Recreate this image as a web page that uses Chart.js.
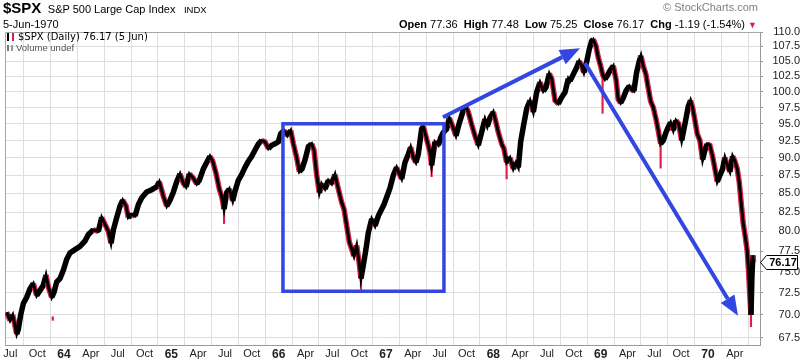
<!DOCTYPE html>
<html lang="en">
<head>
  <meta charset="UTF-8" />
  <title>$SPX Daily</title>
  <script src="https://cdn.jsdelivr.net/npm/chart.js"></script>
  <style>
    body { margin: 0; background: #fff; font-family: "Liberation Sans", Arial, sans-serif; }
    #wrap { position: relative; width: 800px; height: 362px; overflow: hidden; }
    #wrap canvas { position: absolute; left: 0; top: 0; }
    .t { position: absolute; white-space: nowrap; color: #000; }
    .ico { display: inline-block; width: 3px; height: 8px; border-left: 2px solid #000; border-right: 2px solid #d8204c; margin-right: 4px; vertical-align: -1px; }
    .vico { display: inline-block; width: 2px; height: 6px; border-left: 2px solid #777; border-right: 2px solid #999; margin-right: 3px; vertical-align: 0; }
  </style>
</head>
<body>
  <div id="wrap">
    <canvas id="spxChart" width="800" height="362"></canvas>

    <!-- header -->
    <div class="t" style="left:3px;top:-1px;line-height:18px;">
      <span style="font-size:15px;font-weight:bold;">$SPX</span>
      <span style="font-size:11px;margin-left:2px;">S&amp;P 500 Large Cap Index</span>
      <span style="font-size:9.5px;margin-left:4px;">INDX</span>
    </div>
    <div class="t" style="left:3px;top:17px;font-size:11px;line-height:14px;">5-Jun-1970</div>
    <div class="t" style="right:42px;top:1px;font-size:11px;color:#808080;">&copy; StockCharts.com</div>
    <div class="t" style="right:43px;top:17px;font-size:11px;line-height:14px;">
      <b>Open</b> 77.36 &nbsp;<b>High</b> 77.48 &nbsp;<b>Low</b> 75.25 &nbsp;<b>Close</b> 76.17 &nbsp;<b>Chg</b> -1.19 (-1.54%) <span style="color:#d8204c;font-size:9px;">&#9660;</span>
    </div>

    <!-- in-chart legend -->
    <div class="t" style="left:7px;top:31px;font-family:'DejaVu Sans',sans-serif;font-size:10px;line-height:12px;">
      <span class="ico"></span>$SPX (Daily) 76.17 (5 Jun)
    </div>
    <div class="t" style="left:7px;top:42px;font-size:9.5px;line-height:11px;color:#555;">
      <span class="vico"></span>Volume undef
    </div>
  </div>

  <script>
    // daily close, sampled off the chart (decimal year, index value)
    const closeYears = [
      1963.466, 1963.497, 1963.522, 1963.543, 1963.559, 1963.574, 1963.596, 1963.621, 1963.652, 1963.683,
      1963.714, 1963.745, 1963.776, 1963.807, 1963.832, 1963.854, 1963.885, 1963.907, 1963.932, 1963.963,
      1963.994, 1964.025, 1964.056, 1964.102, 1964.149, 1964.196, 1964.227, 1964.273, 1964.320, 1964.351,
      1964.382, 1964.413, 1964.438, 1964.460, 1964.491, 1964.522, 1964.547, 1964.578, 1964.599, 1964.631,
      1964.662, 1964.693, 1964.724, 1964.770, 1964.817, 1964.863, 1964.888, 1964.926, 1964.957, 1964.988,
      1965.019, 1965.050, 1965.081, 1965.112, 1965.137, 1965.168,
      1965.205, 1965.236, 1965.261, 1965.298, 1965.329, 1965.360, 1965.385, 1965.416, 1965.447, 1965.469,
      1965.491, 1965.516, 1965.540, 1965.572, 1965.593, 1965.624, 1965.655, 1965.686, 1965.718, 1965.749,
      1965.780, 1965.811, 1965.842, 1965.873, 1965.904, 1965.935, 1965.966, 1965.997, 1966.019, 1966.050,
      1966.081, 1966.112, 1966.137, 1966.168, 1966.193, 1966.218, 1966.246, 1966.277, 1966.308, 1966.329,
      1966.354, 1966.379, 1966.401, 1966.432, 1966.463, 1966.494, 1966.525, 1966.556, 1966.587, 1966.609,
      1966.634, 1966.659, 1966.680, 1966.702, 1966.727, 1966.749, 1966.767, 1966.789, 1966.814, 1966.835,
      1966.867, 1966.898, 1966.929, 1966.981,
      1967.037, 1967.068, 1967.099, 1967.124, 1967.146, 1967.177, 1967.208, 1967.230, 1967.255, 1967.279,
      1967.301, 1967.332, 1967.348, 1967.379, 1967.410, 1967.425, 1967.456, 1967.488, 1967.512, 1967.534,
      1967.565, 1967.590, 1967.621, 1967.652, 1967.683, 1967.721, 1967.745, 1967.767, 1967.798, 1967.829,
      1967.860, 1967.891, 1967.922, 1967.944, 1967.969, 1968.000, 1968.022, 1968.047, 1968.078, 1968.099,
      1968.124, 1968.155, 1968.186, 1968.211, 1968.233, 1968.255, 1968.280, 1968.311, 1968.342, 1968.373,
      1968.404, 1968.435, 1968.466, 1968.491, 1968.522, 1968.544, 1968.575, 1968.606, 1968.637, 1968.668,
      1968.699, 1968.714, 1968.745, 1968.776, 1968.801, 1968.823, 1968.844, 1968.869, 1968.894, 1968.916,
      1968.931, 1968.956, 1968.978, 1969.000, 1969.018, 1969.040, 1969.062, 1969.087, 1969.118, 1969.143,
      1969.164, 1969.186, 1969.211, 1969.236, 1969.267, 1969.289, 1969.310, 1969.335, 1969.360, 1969.376,
      1969.397, 1969.422, 1969.444, 1969.466, 1969.491, 1969.515, 1969.537, 1969.559, 1969.584, 1969.609,
      1969.630, 1969.652, 1969.677, 1969.702, 1969.727, 1969.755, 1969.786, 1969.817, 1969.838, 1969.857,
      1969.879, 1969.900, 1969.925, 1969.950, 1969.972, 1969.994, 1970.018, 1970.043, 1970.065, 1970.087,
      1970.112, 1970.137, 1970.158, 1970.180, 1970.205, 1970.230, 1970.251, 1970.273, 1970.292, 1970.311,
      1970.329, 1970.348, 1970.366, 1970.379, 1970.391, 1970.401, 1970.410, 1970.419, 1970.425
    ];
    const closeValues = [
      70.3, 69.4, 70.0, 68.8, 67.9, 68.4, 70.0, 71.3, 72.0, 73.0,
      73.6, 72.2, 72.8, 73.4, 74.6, 73.2, 72.0, 72.6, 73.8, 74.2,
      75.2, 76.5, 77.3, 77.7, 78.1, 78.8, 79.6, 80.2, 80.0, 81.8,
      80.9, 80.0, 78.5, 80.2, 81.8, 83.3, 84.1, 83.3, 81.8, 82.2,
      82.0, 83.5, 84.4, 85.2, 85.5, 85.9, 86.6, 84.6, 83.3, 84.1,
      85.2, 86.6, 87.7, 86.4, 85.9, 87.7,
      87.1, 86.3, 86.8, 88.4, 89.3, 90.2, 89.5, 87.8, 85.6, 84.6,
      82.9, 85.1, 85.6, 84.0, 85.3, 86.8, 87.6, 88.6, 89.5, 90.2,
      91.1, 92.0, 92.5, 92.3, 91.3, 91.8, 92.0, 92.3, 93.5, 94.0,
      93.2, 94.0, 92.0, 90.0, 88.0, 88.4, 89.7, 91.6, 92.0, 91.1,
      87.6, 85.1, 86.3, 85.6, 86.8, 86.3, 87.6, 85.6, 83.8, 82.9,
      80.7, 78.6, 77.8, 76.9, 78.2, 76.2, 74.2, 75.8, 77.8, 79.8,
      81.6, 80.7, 82.0, 83.5,
      85.7, 87.5, 88.6, 87.7, 87.0, 89.3, 90.5, 91.5, 90.0, 89.3,
      90.5, 94.2, 94.6, 92.7, 90.8, 88.9, 92.3, 91.8, 93.0, 93.7,
      94.2, 95.9, 94.6, 93.2, 95.1, 97.1, 97.6, 96.8, 94.9, 93.2,
      91.8, 93.7, 95.7, 94.6, 95.9, 96.8, 95.4, 93.7, 92.0, 91.3,
      89.3, 90.0, 88.4, 89.3, 88.6, 92.3, 94.6, 97.3, 98.6, 96.8,
      99.9, 101.5, 100.1, 100.7, 102.9, 102.1, 98.6, 98.1, 99.1, 99.9,
      102.1, 101.7, 102.8, 103.9, 105.0, 104.2, 103.1, 104.8, 107.0, 108.4,
      108.7, 107.6, 105.6, 104.2, 102.8, 102.0, 102.6, 103.4, 104.2, 102.0,
      98.8, 98.2, 99.0, 100.1, 100.9, 100.3, 100.1, 103.1, 105.0, 105.9,
      104.2, 102.8, 100.6, 98.5, 97.5, 95.8, 94.0, 92.0, 92.5, 93.7,
      94.5, 95.2, 94.0, 95.5, 95.0, 92.5, 95.0, 97.7, 98.6, 97.5,
      95.5, 93.5, 92.5, 89.7, 91.1, 92.0, 91.8, 90.2, 88.4, 86.6,
      87.5, 88.4, 90.0, 88.9, 88.0, 90.2, 89.5, 88.4, 86.5, 83.5,
      81.0, 79.3, 77.5, 75.0, 72.0, 70.0, 74.5, 77.0, 76.17
    ];

    // single long intraday bars that stick out of the band
    const wickYears = [1963.895, 1965.491, 1966.767, 1967.425, 1968.124, 1969.018, 1969.559, 1970.401];
    const wickLows  = [69.4, 81.0, 72.9, 87.3, 87.0, 96.6, 88.5, 68.7];
    const wickHighs = [69.8, 84.0, 75.0, 89.5, 90.0, 102.5, 92.0, 71.0];

    const yTickValues = [67.5, 70, 72.5, 75, 77.5, 80, 82.5, 85, 87.5, 90, 92.5, 95, 97.5, 100, 102.5, 105, 107.5, 110];
    const xTickYears = [1963.5, 1963.75, 1964, 1964.25, 1964.5, 1964.75, 1965, 1965.25, 1965.5, 1965.75,
                        1966, 1966.25, 1966.5, 1966.75, 1967, 1967.25, 1967.5, 1967.75, 1968, 1968.25,
                        1968.5, 1968.75, 1969, 1969.25, 1969.5, 1969.75, 1970, 1970.25];
    const xTickLabels = ['Jul', 'Oct', '64', 'Apr', 'Jul', 'Oct', '65', 'Apr', 'Jul', 'Oct',
                         '66', 'Apr', 'Jul', 'Oct', '67', 'Apr', 'Jul', 'Oct', '68', 'Apr',
                         'Jul', 'Oct', '69', 'Apr', 'Jul', 'Oct', '70', 'Apr'];

    // hand drawn annotations, in chart units
    const boxYears = [1966.04, 1967.54];
    const boxValues = [95.0, 72.7];
    const arrowUpYears = [1967.531, 1968.808];
    const arrowUpValues = [96.0, 107.2];
    const arrowDownYears = [1968.854, 1970.280];
    const arrowDownValues = [104.7, 69.9];

    const lastClose = 76.17;

    const BLACK = '#000000';
    const RED = '#dc2049';
    const BLUE = '#3346df';

    const points = closeYears.map((yr, i) => ({ x: yr, y: closeValues[i] }));
    const wicks = wickYears.map((yr, i) => ({ x: yr, y: [wickLows[i], wickHighs[i]] }));

    function drawArrow(ctx, xa, ya, xb, yb) {
      const ang = Math.atan2(yb - ya, xb - xa);
      const headLen = 20, headHalf = 8;
      const bx = xb - headLen * Math.cos(ang);
      const by = yb - headLen * Math.sin(ang);
      ctx.beginPath();
      ctx.moveTo(xa, ya);
      ctx.lineTo(bx, by);
      ctx.stroke();
      ctx.beginPath();
      ctx.moveTo(xb, yb);
      ctx.lineTo(bx + headHalf * Math.sin(ang), by - headHalf * Math.cos(ang));
      ctx.lineTo(bx - headHalf * Math.sin(ang), by + headHalf * Math.cos(ang));
      ctx.closePath();
      ctx.fill();
    }

    const annotationPlugin = {
      id: 'annotations',
      beforeDatasetsDraw(chart) {
        // top and left frame of the plot
        const { ctx, chartArea: a } = chart;
        ctx.save();
        ctx.strokeStyle = '#a8a8a8';
        ctx.lineWidth = 1;
        ctx.beginPath();
        ctx.moveTo(a.left + 0.5, a.bottom);
        ctx.lineTo(a.left + 0.5, a.top + 0.5);
        ctx.lineTo(a.right, a.top + 0.5);
        ctx.stroke();
        ctx.restore();
      },
      afterDatasetsDraw(chart) {
        const { ctx, scales: { x, y } } = chart;
        ctx.save();
        ctx.strokeStyle = BLUE;
        ctx.fillStyle = BLUE;
        ctx.lineWidth = 3.5;
        const x0 = x.getPixelForValue(boxYears[0]);
        const x1 = x.getPixelForValue(boxYears[1]);
        const y0 = y.getPixelForValue(boxValues[0]);
        const y1 = y.getPixelForValue(boxValues[1]);
        ctx.strokeRect(x0, y0, x1 - x0, y1 - y0);
        ctx.lineWidth = 4;
        drawArrow(ctx, x.getPixelForValue(arrowUpYears[0]), y.getPixelForValue(arrowUpValues[0]),
                       x.getPixelForValue(arrowUpYears[1]), y.getPixelForValue(arrowUpValues[1]));
        drawArrow(ctx, x.getPixelForValue(arrowDownYears[0]), y.getPixelForValue(arrowDownValues[0]),
                       x.getPixelForValue(arrowDownYears[1]), y.getPixelForValue(arrowDownValues[1]));
        ctx.restore();
      },
      afterDraw(chart) {
        // last price flag on the right axis
        const { ctx, chartArea: a, scales: { y } } = chart;
        const yy = Math.round(y.getPixelForValue(lastClose)) + 0.5;
        const tip = a.right + 0.5, bl = a.right + 6.5, br = 797.5;
        ctx.save();
        ctx.beginPath();
        ctx.moveTo(tip, yy);
        ctx.lineTo(bl, yy - 7);
        ctx.lineTo(br, yy - 7);
        ctx.lineTo(br, yy + 7);
        ctx.lineTo(bl, yy + 7);
        ctx.closePath();
        ctx.fillStyle = '#fff';
        ctx.fill();
        ctx.strokeStyle = '#000';
        ctx.lineWidth = 1;
        ctx.stroke();
        ctx.fillStyle = '#000';
        ctx.font = 'bold 11px "Liberation Sans", Arial, sans-serif';
        ctx.textAlign = 'center';
        ctx.textBaseline = 'middle';
        ctx.fillText(lastClose.toFixed(2), (bl + br) / 2 + 1, yy + 0.5);
        ctx.restore();
      }
    };

    const ctx = document.getElementById('spxChart').getContext('2d');
    new Chart(ctx, {
      type: 'line',
      data: {
        datasets: [
          {
            // black core of the price band
            data: points,
            borderColor: BLACK,
            borderWidth: 3,
            pointRadius: 0,
            tension: 0,
            order: 1
          },
          {
            // wider band, red where the price falls
            data: points,
            borderWidth: 5.5,
            pointRadius: 0,
            tension: 0,
            borderColor: BLACK,
            segment: {
              borderColor: c => c.p1.parsed.y < c.p0.parsed.y ? RED : BLACK
            },
            order: 2
          },
          {
            type: 'bar',
            data: wicks,
            backgroundColor: RED,
            borderWidth: 0,
            barThickness: 1.5,
            order: 3
          }
        ]
      },
      options: {
        responsive: false,
        animation: false,
        events: [],
        layout: { autoPadding: false, padding: { left: 5, top: 32, right: 0, bottom: 0 } },
        plugins: { legend: { display: false }, tooltip: { enabled: false } },
        scales: {
          x: {
            type: 'linear',
            min: 1963.450,
            max: 1970.485,
            offset: false,
            afterFit: s => { s.height = 17; },
            afterBuildTicks: s => { s.ticks = xTickYears.map((v, i) => ({ value: v, major: xTickLabels[i].length === 2 })); },
            grid: { color: '#dedede', drawTicks: false },
            border: { color: '#9a9a9a' },
            ticks: {
              autoSkip: false,
              maxRotation: 0,
              padding: 2,
              color: '#222',
              font: c => (c.tick && c.tick.major)
                ? { family: '"Liberation Sans", Arial, sans-serif', size: 12, weight: 'bold' }
                : { family: '"Liberation Sans", Arial, sans-serif', size: 11 },
              callback: (v, i) => xTickLabels[i]
            }
          },
          y: {
            type: 'logarithmic',
            position: 'right',
            min: 66.72,
            max: 110,
            afterFit: s => { s.width = 40; },
            afterBuildTicks: s => { s.ticks = yTickValues.map(v => ({ value: v })); },
            grid: { color: '#dedede', tickLength: 3, tickColor: '#9a9a9a' },
            border: { color: '#9a9a9a' },
            ticks: {
              autoSkip: false,
              padding: 0,
              crossAlign: 'far',
              color: '#222',
              font: { family: '"Liberation Sans", Arial, sans-serif', size: 11 },
              callback: v => Number(v).toFixed(1)
            }
          }
        }
      },
      plugins: [annotationPlugin]
    });
  </script>
</body>
</html>
